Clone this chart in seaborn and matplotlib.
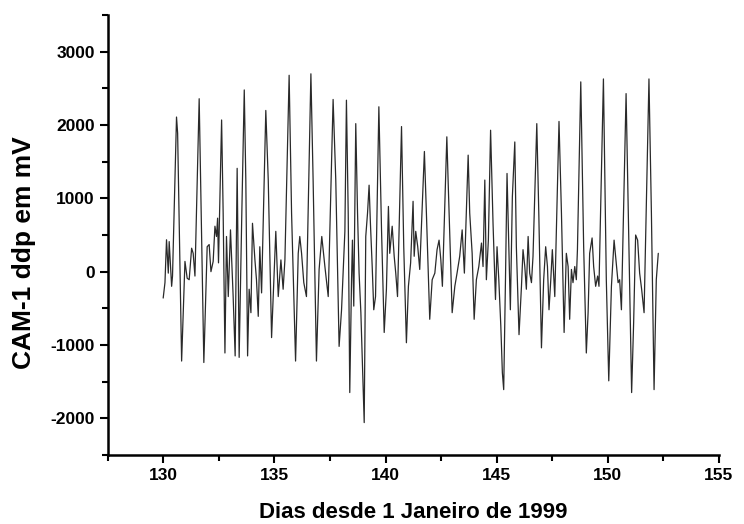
import matplotlib
matplotlib.use("Agg")
import matplotlib.pyplot as plt
from matplotlib.ticker import MultipleLocator
import seaborn as sns

# signal (day, mV)
dias = [
    129.99, 130.07, 130.14, 130.22, 130.26, 130.32, 130.37, 130.41, 130.59, 130.64,
    130.82, 130.97, 131.07, 131.16, 131.27, 131.34, 131.42, 131.61, 131.82, 131.97,
    132.06, 132.14, 132.24, 132.32, 132.39, 132.44, 132.48, 132.62, 132.69, 132.77,
    132.84, 132.92, 133.02, 133.14, 133.23, 133.32, 133.41, 133.53, 133.64, 133.71,
    133.79, 133.86, 133.94, 134.01, 134.12, 134.19, 134.27, 134.34, 134.42, 134.61,
    134.72, 134.87, 135.06, 135.17, 135.29, 135.39, 135.47, 135.66, 135.77, 135.95,
    136.07, 136.14, 136.22, 136.32, 136.44, 136.64, 136.74, 136.89, 137.01, 137.13,
    137.27, 137.42, 137.64, 137.76, 137.91, 138.02, 138.17, 138.24,
    138.32, 138.39, 138.47, 138.51, 138.57, 138.66, 138.74, 138.81, 138.89, 138.96,
    139.04, 139.11, 139.19, 139.26, 139.32, 139.40, 139.47, 139.55, 139.70, 139.82,
    139.94, 140.04, 140.13, 140.19, 140.30, 140.39, 140.46, 140.54, 140.72, 140.82,
    140.94, 141.03, 141.13, 141.24, 141.29, 141.36, 141.45, 141.54, 141.75, 141.84,
    141.99, 142.10, 142.22, 142.32, 142.41, 142.49, 142.56, 142.76, 142.83, 143.00,
    143.12, 143.22, 143.34, 143.45, 143.55, 143.72, 143.79, 143.90, 143.99, 144.09,
    144.20, 144.32, 144.39, 144.47, 144.54, 144.63, 144.73, 144.84, 144.95, 145.02,
    145.10, 145.19, 145.26, 145.32, 145.40, 145.47, 145.55, 145.62, 145.71, 145.82,
    145.89, 146.01, 146.12, 146.19, 146.27, 146.34, 146.42, 146.49, 146.57, 146.64,
    146.81, 146.90, 147.02, 147.12, 147.21, 147.29, 147.36, 147.44, 147.51, 147.62,
    147.81, 147.92, 148.04, 148.14, 148.22, 148.29, 148.37, 148.44, 148.52, 148.59,
    148.64, 148.79, 148.92, 149.04, 149.12, 149.19, 149.30, 149.37, 149.46, 149.55,
    149.61, 149.81, 149.94, 150.05, 150.17, 150.29, 150.36, 150.47, 150.54, 150.62,
    150.83, 150.96, 151.08, 151.17, 151.26, 151.35, 151.44, 151.53, 151.64, 151.86,
    151.97, 152.09, 152.19, 152.28,
]
ddp = [
    -360, -150, 435, -20, 410, 70, -200, -60, 2110, 1890,
    -1220, 140, -90, -110, 320, 250, -60, 2360, -1240, 340,
    370, 0, 140, 620, 480, 730, 120, 2070, 800, -1110,
    480, -340, 570, -340, -1150, 1410, -1170, 800, 2480, 1250,
    -1150, -240, -560, 660, 160, -110, -610, 340, -290, 2200,
    1250, -900, 550, -340, 160, -240, 160, 2680, 800, -1220,
    250, 480, 250, -150, -340, 2700, 1250, -1220, 30, 480,
    70, -340, 2350, 1250, -1020, -520, 550, 2340,
    800, -1650, -110, 430, -470, 2020, 800, -20, -560, -1240,
    -2060, 480, 800, 1180, 660, 70, -520, -340, 2250, 570,
    -830, -240, 890, 250, 620, 210, -20, -340, 1980, 340,
    -970, -200, 120, 960, 210, 550, 340, 30, 1640, 800,
    -650, -110, -20, 300, 430, 160, -200, 1840, 1120, -560,
    -200, -20, 210, 570, -20, 1590, 800, 250, -650, -110,
    70, 390, 70, 1250, -110, 430, 1930, 660, -380, 340,
    -110, -740, -1380, -1610, -110, 1340, 340, -520, 1020, 1770,
    340, -860, -200, 300, 70, -240, 480, -20, -150, 210,
    2020, 800, -1040, -110, 340, 70, -520, -110, 300, -340,
    2050, 800, -830, 250, 70, -650, 30, -150, 70, -110,
    300, 2590, 340, -1110, -560, 250, 460, 70, -200, -60,
    -200, 2630, -110, -1490, -200, 430, 210, -150, -110, -520,
    2430, 340, -1650, -700, 500, 430, -20, -240, -560, 2630,
    800, -1610, -110, 250,
]

x_ticks = [130, 135, 140, 145, 150, 155]
y_ticks = [-2000, -1000, 0, 1000, 2000, 3000]

sns.set_style("ticks")
plt.rcParams["font.family"] = ["Liberation Sans", "DejaVu Sans"]
plt.rcParams["font.weight"] = "bold"
plt.rcParams["axes.unicode_minus"] = False
plt.rcParams["text.color"] = "black"
plt.rcParams["axes.labelcolor"] = "black"
plt.rcParams["xtick.color"] = "black"
plt.rcParams["ytick.color"] = "black"

fig = plt.figure(figsize=(7.44, 5.24), dpi=100)
ax = fig.add_axes([0.145, 0.132, 0.821, 0.839])

sns.lineplot(x=dias, y=ddp, sort=False, estimator=None, color="#2a2a2a",
             linewidth=0.9, ax=ax)

ax.set_xlim(127.5, 155)
ax.set_ylim(-2500, 3500)
ax.set_xticks(x_ticks)
ax.set_yticks(y_ticks)
ax.xaxis.set_minor_locator(MultipleLocator(2.5))
ax.yaxis.set_minor_locator(MultipleLocator(500))
ax.tick_params(which="major", length=6, width=1.5, labelsize=12.5, direction="out",
               colors="black")
ax.tick_params(which="minor", length=4, width=1.5, direction="out", colors="black")
for lab in ax.get_xticklabels() + ax.get_yticklabels():
    lab.set_fontweight("bold")

sns.despine(ax=ax)
for side in ["left", "bottom"]:
    ax.spines[side].set_linewidth(1.8)
    ax.spines[side].set_color("black")

ax.set_xlabel("Dias desde 1 Janeiro de 1999", fontsize=16, fontweight="bold", labelpad=14)
ax.set_ylabel("CAM-1 ddp em mV", fontsize=19, fontweight="bold")
ax.yaxis.set_label_coords(-0.117, 0.46)

fig.savefig("out.png", dpi=100)
